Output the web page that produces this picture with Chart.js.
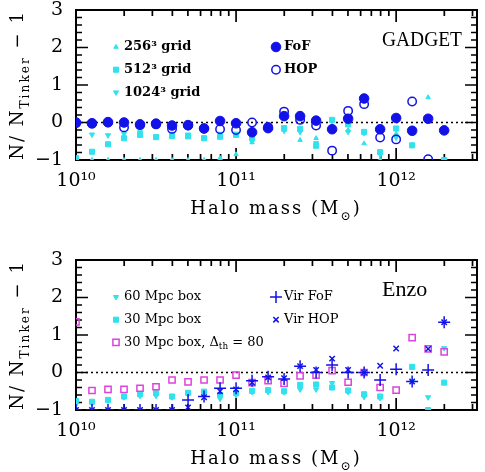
<!DOCTYPE html>
<html><head><meta charset="utf-8">
<script src="https://cdn.jsdelivr.net/npm/chart.js@4/dist/chart.umd.min.js"></script>
<style>
html,body{margin:0;padding:0;background:#fff;}
body{width:485px;height:472px;overflow:hidden;position:relative}
.p{position:absolute;left:0;width:485px;height:236px}
canvas{display:block}
</style></head><body>
<div class="p" style="top:0"><canvas id="c1" width="485" height="236"></canvas></div>
<div class="p" style="top:236px"><canvas id="c2" width="485" height="236"></canvas></div>
<script>
// ---------- data ----------
const logMass = [10.0,10.1,10.2,10.3,10.4,10.5,10.6,10.7,10.8,10.9,11.0,11.1,11.2,11.3,11.4,11.5,11.6,11.7,11.8,11.9,12.0,12.1,12.2,12.3];

// GADGET panel
const gadgetFoF  = [0.00,-0.02,0.01,0.00,-0.05,-0.03,-0.08,-0.07,-0.16,0.04,-0.02,-0.26,-0.15,0.17,0.17,0.05,-0.18,0.10,0.64,-0.18,0.12,-0.22,0.10,-0.21];
const gadgetHOP  = [-0.02,-0.03,0.00,-0.13,-0.07,-0.05,-0.17,-0.08,-0.16,-0.18,-0.20,0.00,-0.12,0.29,0.07,-0.08,-0.75,0.31,0.49,-0.40,-0.45,0.56,-0.98,null];
const grid256    = [-1,-1,-1,-1,-1,-1,-1,-1,-1,-0.95,-0.85,-0.53,-0.10,-0.20,-0.47,-0.42,-0.10,-0.20,-0.56,-1.0,-0.30,-0.60,0.67,-1.0];
const grid512    = [-0.95,-0.78,-0.58,-0.42,-0.33,-0.39,-0.36,-0.37,-0.42,-0.38,-0.33,-0.42,-0.12,-0.15,-0.17,-0.62,0.07,-0.05,-0.25,-0.79,-0.16,-0.61,0.10,-1.0];
const grid1024   = [null,-0.32,-0.34,-0.30,-0.26,-0.38,-0.30,-0.32,-0.40,-0.30,-0.30,-0.50,-0.20,-0.22,-0.25,-0.55,-0.12,-0.25,-0.28,-0.85,-0.40,-0.20,0.10,-1.0];

// Enzo panel
const box60      = [-0.85,-0.82,-0.75,-0.66,-0.62,-0.62,-0.66,-0.58,-0.55,-0.70,-0.60,-0.52,-0.52,-0.52,-0.45,-0.45,-0.28,-0.52,-0.65,-0.68,null,-0.24,-0.66,0.65];
const box30      = [-0.76,-0.78,-0.73,-0.64,-0.58,-0.55,-0.64,-0.54,-0.51,-0.60,-0.55,-0.49,-0.47,-0.50,-0.33,-0.32,-0.40,-0.48,-0.58,-0.64,null,0.15,-1.0,-0.27];
const box30th80  = [1.35,-0.48,-0.45,-0.45,-0.42,-0.38,-0.20,-0.25,-0.20,-0.20,-0.07,-0.27,-0.22,-0.29,-0.09,-0.07,0.05,-0.26,0.00,-0.40,-0.47,0.93,0.63,0.55];
const virFoF     = [-1,-1,-1,-1,-1,-1,-1,-0.73,-0.64,-0.42,-0.42,-0.22,-0.11,-0.17,0.17,0.00,0.20,0.00,0.00,-0.20,0.09,-0.24,0.07,1.34];
const virHOP     = [-1,-1,-1,-1,-1,-1,-1,-0.93,-0.66,-0.50,-0.45,-0.27,-0.13,-0.15,0.17,0.07,0.37,0.07,0.00,0.18,0.64,-0.24,0.63,1.34];

// axes
const xMin = 1e10, xMax = 3.2e12;
const yMin = -1, yMax = 3;
const xTickDecades = [10, 11, 12];
const xTickLabels = ['10\u00B9\u2070', '10\u00B9\u00B9', '10\u00B9\u00B2'];
const yTickValues = [-1, 0, 1, 2, 3];

// ---------- styles ----------
const BLUE = '#1212e8', CYAN = '#30e2ee', MAG = '#dd44dd';
const SERIF = '"DejaVu Serif", "Liberation Serif", serif';
const ST = {
  fof:  {pointStyle:'circle', pointRadius:4.8, pointBackgroundColor:BLUE, pointBorderColor:BLUE, pointBorderWidth:1},
  hop:  {pointStyle:'circle', pointRadius:4.2, pointBackgroundColor:'rgba(0,0,0,0)', pointBorderColor:BLUE, pointBorderWidth:1.5},
  g256: {pointStyle:'triangle', pointRadius:2.6, pointBackgroundColor:CYAN, pointBorderColor:CYAN, pointBorderWidth:1},
  g512: {pointStyle:'rect', pointRadius:3.6, pointBackgroundColor:CYAN, pointBorderColor:CYAN, pointBorderWidth:1},
  g1024:{pointStyle:'triangle', pointRotation:180, pointRadius:3.0, pointBackgroundColor:CYAN, pointBorderColor:CYAN, pointBorderWidth:1},
  b60:  {pointStyle:'triangle', pointRotation:180, pointRadius:3.0, pointBackgroundColor:CYAN, pointBorderColor:CYAN, pointBorderWidth:1},
  b30:  {pointStyle:'rect', pointRadius:3.6, pointBackgroundColor:CYAN, pointBorderColor:CYAN, pointBorderWidth:1},
  b80:  {pointStyle:'rect', pointRadius:4.4, pointBackgroundColor:'rgba(0,0,0,0)', pointBorderColor:MAG, pointBorderWidth:1.5},
  vfof: {pointStyle:'cross', pointRadius:6, pointBackgroundColor:BLUE, pointBorderColor:BLUE, pointBorderWidth:1.5},
  vhop: {pointStyle:'crossRot', pointRadius:3.8, pointBackgroundColor:BLUE, pointBorderColor:BLUE, pointBorderWidth:1.5}
};

function pts(vals){
  const out = [];
  vals.forEach((v,i)=>{ if(v!==null) out.push({x:Math.pow(10, logMass[i]), y:v}); });
  return out;
}
function ds(label, vals, st){
  return Object.assign({label, data:pts(vals), showLine:false, clip:0, pointHoverRadius:0, xAxisID:'x', yAxisID:'y'}, st);
}

// ---------- text helpers (manual letter spacing) ----------
function spacedWidth(ctx, t, sp){
  let w = 0;
  for (const ch of t) w += ctx.measureText(ch).width + sp;
  return w;
}
function richWidth(ctx, parts, size, weight, sp){
  let w = 0;
  for (const p of parts){
    const s = p.sub ? size*0.68 : size;
    ctx.font = `${weight} ${s}px ${SERIF}`;
    w += sp ? spacedWidth(ctx, p.t, sp) : ctx.measureText(p.t).width;
  }
  return w;
}
function drawRich(ctx, parts, x, y, size, weight, sp){
  for (const p of parts){
    const s = p.sub ? size*0.68 : size;
    ctx.font = `${weight} ${s}px ${SERIF}`;
    const yy = y + (p.sub ? size*0.32 : 0);
    if (sp){
      for (const ch of p.t){ ctx.fillText(ch, x, yy); x += ctx.measureText(ch).width + sp; }
    } else {
      ctx.fillText(p.t, x, yy);
      x += ctx.measureText(p.t).width;
    }
  }
}
function marker(ctx, st, x, y){
  ctx.save();
  ctx.fillStyle = st.pointBackgroundColor;
  ctx.strokeStyle = st.pointBorderColor;
  ctx.lineWidth = st.pointBorderWidth;
  Chart.helpers.drawPoint(ctx, {pointStyle:st.pointStyle, radius:st.pointRadius, rotation:st.pointRotation||0, borderWidth:st.pointBorderWidth}, x, y);
  ctx.restore();
}

// ---------- plugin ----------
const panelPlugin = {
  id: 'panel',
  beforeDatasetsDraw(chart){
    const ctx = chart.ctx, a = chart.chartArea, x = chart.scales.x, y = chart.scales.y;
    ctx.save();
    // dotted zero line
    const y0 = y.getPixelForValue(0);
    ctx.strokeStyle = '#000'; ctx.lineWidth = 1.3; ctx.setLineDash([2,3]);
    ctx.beginPath(); ctx.moveTo(a.left, y0); ctx.lineTo(a.right, y0); ctx.stroke();
    // inward ticks on all four sides
    ctx.setLineDash([]);
    ctx.lineWidth = 1.7;
    ctx.beginPath();
    for (const d of xTickDecades){
      for (let m = 1; m <= 9; m++){
        const v = m * Math.pow(10, d);
        if (v < xMin || v > xMax) continue;
        const px = x.getPixelForValue(v);
        const len = m === 1 ? 12 : 6;
        ctx.moveTo(px, a.bottom); ctx.lineTo(px, a.bottom - len);
        ctx.moveTo(px, a.top); ctx.lineTo(px, a.top + len);
      }
    }
    for (let k = 0; k <= 20; k++){
      const py = y.getPixelForValue(yMin + k*0.2);
      const len = (k % 5 === 0) ? 12 : 6;
      ctx.moveTo(a.left, py); ctx.lineTo(a.left + len, py);
      ctx.moveTo(a.right, py); ctx.lineTo(a.right - len, py);
    }
    ctx.stroke();
    ctx.restore();
  },
  afterDraw(chart){
    const o = chart.options.plugins.panel;
    const {ctx, chartArea:a} = chart;
    const T = Math.round(a.top), B = Math.round(a.bottom);
    ctx.save();
    ctx.fillStyle = '#000';
    ctx.textAlign = 'left';
    ctx.textBaseline = 'alphabetic';
    ctx.font = `22px "Liberation Serif", serif`;
    ctx.fillText(o.label, 382, T + 36, o.labelWidth);

    ctx.textBaseline = 'middle';
    for (const e of o.legend){
      const yy = T + 37 + 22.7*e.row;
      marker(ctx, e.st, e.mx, yy);
      ctx.fillStyle = '#000';
      drawRich(ctx, e.parts, e.mx + 8, yy, 13, o.legendWeight, 0);
    }

    ctx.textBaseline = 'alphabetic';
    const xt = [{t:'Halo mass (M'},{t:'\u2299', sub:true},{t:')'}];
    const w = richWidth(ctx, xt, 18, 'normal', 2);
    drawRich(ctx, xt, 276 - w/2, B + 54, 18, 'normal', 2);

    const yt = [{t:'N/ N'},{t:'Tinker', sub:true},{t:' \u2212 1'}];
    const wy = richWidth(ctx, yt, 18, 'normal', 2);
    ctx.translate(23, (T + B)/2);
    ctx.rotate(-Math.PI/2);
    drawRich(ctx, yt, -wy/2, 0, 18, 'normal', 2);
    ctx.restore();
  }
};

const BORDER = {display:true, color:'#000', width:2};

function makeChart(id, datasets, padTop, panelOpts){
  const areaH = 150;
  return new Chart(document.getElementById(id), {
    type: 'scatter',
    data: { datasets },
    plugins: [panelPlugin],
    options: {
      responsive: false,
      animation: false,
      events: [],
      layout: { padding: {top: padTop, right: 8, left: 0, bottom: 0} },
      plugins: { legend:{display:false}, tooltip:{enabled:false}, panel: panelOpts },
      scales: {
        x: {
          type: 'logarithmic', position: 'bottom', min: xMin, max: xMax,
          grid: {display:false, drawTicks:false}, border: BORDER,
          afterFit: s => { s.height = 236 - padTop - areaH; s.paddingLeft = 0; s.paddingRight = 0; },
          ticks: {
            autoSkip:false, maxRotation:0, padding: 10, color:'#000',
            font: {family: SERIF, size: 19},
            callback: function(v){
              const l = Math.log10(v);
              const i = xTickDecades.findIndex(d => Math.abs(d - l) < 1e-6);
              return i >= 0 ? xTickLabels[i] : '';
            }
          }
        },
        x2: {
          type: 'logarithmic', position: 'top', min: xMin, max: xMax,
          grid: {display:false, drawTicks:false}, border: BORDER,
          ticks: {display:false},
          afterFit: s => { s.height = 0; s.paddingLeft = 0; s.paddingRight = 0; }
        },
        y: {
          position: 'left', min: yMin, max: yMax,
          grid: {display:false, drawTicks:false}, border: BORDER,
          afterFit: s => { s.width = 76; s.paddingTop = 0; s.paddingBottom = 0; },
          afterBuildTicks: s => { s.ticks = yTickValues.map(v => ({value:v})); },
          ticks: {
            padding: 13, color:'#000',
            font: {family: SERIF, size: 19},
            callback: v => v < 0 ? '\u2212' + Math.abs(v) : String(v)
          }
        },
        y2: {
          position: 'right', min: yMin, max: yMax,
          grid: {display:false, drawTicks:false}, border: BORDER,
          ticks: {display:false},
          afterFit: s => { s.width = 0; s.paddingTop = 0; s.paddingBottom = 0; }
        }
      }
    }
  });
}

makeChart('c1', [
  ds('FoF', gadgetFoF, ST.fof),
  ds('HOP', gadgetHOP, ST.hop),
  ds('256³ grid', grid256, ST.g256),
  ds('512³ grid', grid512, ST.g512),
  ds('1024³ grid', grid1024, ST.g1024)
], 10, {
  label: 'GADGET', labelWidth: 80, legendWeight: 'bold',
  legend: [
    {row:0, mx:116, st:ST.g256, parts:[{t:'256\u00B3 grid'}]},
    {row:1, mx:116, st:ST.g512, parts:[{t:'512\u00B3 grid'}]},
    {row:2, mx:116, st:ST.g1024, parts:[{t:'1024\u00B3 grid'}]},
    {row:0, mx:276, st:ST.fof, parts:[{t:'FoF'}]},
    {row:1, mx:276, st:ST.hop, parts:[{t:'HOP'}]}
  ]
});

makeChart('c2', [
  ds('Vir FoF', virFoF, ST.vfof),
  ds('Vir HOP', virHOP, ST.vhop),
  ds('30 Mpc box, Δth = 80', box30th80, ST.b80),
  ds('60 Mpc box', box60, ST.b60),
  ds('30 Mpc box', box30, ST.b30)
], 24, {
  label: 'Enzo', labelWidth: 60, legendWeight: 'normal',
  legend: [
    {row:0, mx:116, st:ST.b60, parts:[{t:'60 Mpc box'}]},
    {row:1, mx:116, st:ST.b30, parts:[{t:'30 Mpc box'}]},
    {row:2, mx:116, st:ST.b80, parts:[{t:'30 Mpc box, \u0394'},{t:'th', sub:true},{t:' = 80'}]},
    {row:0, mx:276, st:ST.vfof, parts:[{t:'Vir FoF'}]},
    {row:1, mx:276, st:ST.vhop, parts:[{t:'Vir HOP'}]}
  ]
});
</script>
</body></html>
